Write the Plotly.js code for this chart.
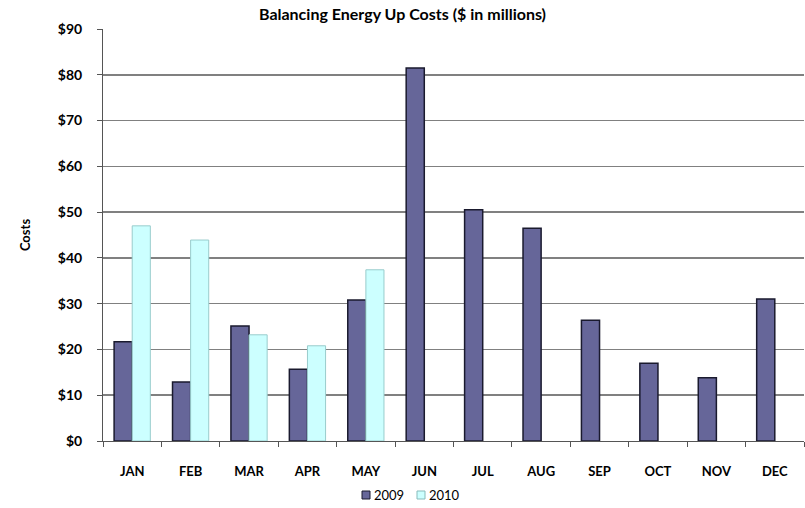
<!DOCTYPE html>
<html>
<head>
<meta charset="utf-8">
<script src="https://cdn.plot.ly/plotly-3.0.1.min.js"></script>
<style>html,body{margin:0;padding:0;background:#fff;}#chart{width:805px;height:508px;}</style>
</head>
<body>
<div id="chart"></div>
<script>
const months = ["JAN","FEB","MAR","APR","MAY","JUN","JUL","AUG","SEP","OCT","NOV","DEC"];
const costs2009 = [21.7, 12.9, 25.1, 15.7, 30.8, 81.5, 50.5, 46.5, 26.4, 17.0, 13.8, 31.0];
const costs2010 = [47.0, 43.9, 23.2, 20.8, 37.4, null, null, null, null, null, null, null];
const yTickVals = [0,10,20,30,40,50,60,70,80,90];
const yTickText = ["$0","$10","$20","$30","$40","$50","$60","$70","$80","$90"];
const seriesNames = ["2009","2010"];
const seriesColors = ["#666699","#CCFFFF"];
const seriesEdges = ["#1a1a2e","#88bbbb"];

const fontFam = "Lato, 'Open Sans', sans-serif";
const traces = [
  {type:"bar", name:seriesNames[0], x:months, y:costs2009,
   marker:{color:seriesColors[0], line:{color:seriesEdges[0], width:1.5}}},
  {type:"bar", name:seriesNames[1], x:months, y:costs2010,
   marker:{color:seriesColors[1], line:{color:"#99cccc", width:1}}}
];

// custom compact legend (paper coordinates)
const W = 805, H = 508, L = 103, R = 1, T = 29, B = 67;
const pw = W - L - R, ph = H - T - B;
const px = x => (x - L) / pw;
const py = y => (H - B - y) / ph;
const legendStarts = [362, 417];
const shapes = [], annotations = [];
seriesNames.forEach((n, i) => {
  const x0 = legendStarts[i];
  shapes.push({type:"rect", xref:"paper", yref:"paper", x0:px(x0), x1:px(x0+8), y0:py(499), y1:py(491),
               fillcolor:seriesColors[i], line:{color:seriesEdges[i], width:1}});
  annotations.push({xref:"paper", yref:"paper", x:px(x0+10), y:py(495), xanchor:"left", yanchor:"middle",
                    text:n, showarrow:false, font:{family:fontFam, size:13, color:"#000"}});
});

const layout = {
  width:W, height:H,
  margin:{l:L, r:R, t:T, b:B},
  paper_bgcolor:"#fff", plot_bgcolor:"#fff",
  barmode:"group", bargap:0.38, bargroupgap:0,
  title:{text:"<b>Balancing Energy Up Costs ($ in millions)</b>", x:0.5, xanchor:"center", y:0.972, yanchor:"middle",
         font:{family:fontFam, size:16, color:"#000"}},
  xaxis:{type:"category", automargin:false, showline:true, linecolor:"#555", linewidth:1,
         ticks:"outside", tickson:"boundaries", ticklen:5, tickcolor:"#555",
         ticklabelstandoff:18,
         tickfont:{family:fontFam, size:13, color:"#000", weight:"bold"},
         showgrid:false},
  yaxis:{range:[0,90], automargin:false, tickvals:yTickVals, ticktext:yTickText,
         showline:true, linecolor:"#555", linewidth:1,
         ticks:"outside", ticklen:5, tickcolor:"#555",
         ticklabelstandoff:12,
         tickfont:{family:fontFam, size:14, color:"#000", weight:"bold"},
         showgrid:true, gridcolor:"#808080", gridwidth:1.5, zeroline:false,
         title:{text:"<b>Costs</b>", standoff:24, font:{family:fontFam, size:13, color:"#000"}}},
  shapes:shapes, annotations:annotations,
  showlegend:false
};
Plotly.newPlot("chart", traces, layout, {displayModeBar:false, staticPlot:true});
</script>
</body>
</html>
